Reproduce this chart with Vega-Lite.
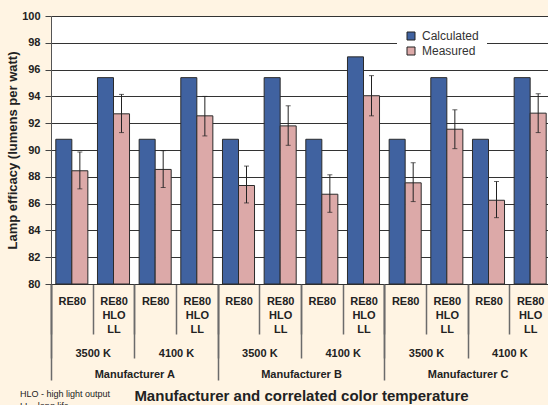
{
  "$schema": "https://vega.github.io/schema/vega-lite/v6.json",
  "width": 500,
  "height": 268,
  "autosize": {"type": "none"},
  "padding": {"left": 51, "top": 16, "right": 0, "bottom": 121},
  "background": "#fff4e3",
  "config": {"font": "Liberation Sans", "view": {"fill": "white", "stroke": null}},
  "title": {
    "text": ["HLO - high light output", "LL - long life"],
    "orient": "bottom",
    "anchor": "start",
    "frame": "group",
    "fontSize": 9,
    "fontWeight": "normal",
    "color": "#222",
    "lineHeight": 12,
    "offset": -14,
    "dx": -31
  },
  "datasets": {
    "bars": [
      {"g": "A|3500 K|RE80", "tg": "A|3500 K", "mfr": "Manufacturer A", "series": "Calculated", "value": 90.8},
      {"g": "A|3500 K|RE80", "tg": "A|3500 K", "mfr": "Manufacturer A", "series": "Measured", "value": 88.45},
      {"g": "A|3500 K|RE80 HLO LL", "tg": "A|3500 K", "mfr": "Manufacturer A", "series": "Calculated", "value": 95.4},
      {"g": "A|3500 K|RE80 HLO LL", "tg": "A|3500 K", "mfr": "Manufacturer A", "series": "Measured", "value": 92.7},
      {"g": "A|4100 K|RE80", "tg": "A|4100 K", "mfr": "Manufacturer A", "series": "Calculated", "value": 90.8},
      {"g": "A|4100 K|RE80", "tg": "A|4100 K", "mfr": "Manufacturer A", "series": "Measured", "value": 88.55},
      {"g": "A|4100 K|RE80 HLO LL", "tg": "A|4100 K", "mfr": "Manufacturer A", "series": "Calculated", "value": 95.4},
      {"g": "A|4100 K|RE80 HLO LL", "tg": "A|4100 K", "mfr": "Manufacturer A", "series": "Measured", "value": 92.55},
      {"g": "B|3500 K|RE80", "tg": "B|3500 K", "mfr": "Manufacturer B", "series": "Calculated", "value": 90.8},
      {"g": "B|3500 K|RE80", "tg": "B|3500 K", "mfr": "Manufacturer B", "series": "Measured", "value": 87.35},
      {"g": "B|3500 K|RE80 HLO LL", "tg": "B|3500 K", "mfr": "Manufacturer B", "series": "Calculated", "value": 95.4},
      {"g": "B|3500 K|RE80 HLO LL", "tg": "B|3500 K", "mfr": "Manufacturer B", "series": "Measured", "value": 91.8},
      {"g": "B|4100 K|RE80", "tg": "B|4100 K", "mfr": "Manufacturer B", "series": "Calculated", "value": 90.8},
      {"g": "B|4100 K|RE80", "tg": "B|4100 K", "mfr": "Manufacturer B", "series": "Measured", "value": 86.7},
      {"g": "B|4100 K|RE80 HLO LL", "tg": "B|4100 K", "mfr": "Manufacturer B", "series": "Calculated", "value": 96.95},
      {"g": "B|4100 K|RE80 HLO LL", "tg": "B|4100 K", "mfr": "Manufacturer B", "series": "Measured", "value": 94.05},
      {"g": "C|3500 K|RE80", "tg": "C|3500 K", "mfr": "Manufacturer C", "series": "Calculated", "value": 90.8},
      {"g": "C|3500 K|RE80", "tg": "C|3500 K", "mfr": "Manufacturer C", "series": "Measured", "value": 87.55},
      {"g": "C|3500 K|RE80 HLO LL", "tg": "C|3500 K", "mfr": "Manufacturer C", "series": "Calculated", "value": 95.4},
      {"g": "C|3500 K|RE80 HLO LL", "tg": "C|3500 K", "mfr": "Manufacturer C", "series": "Measured", "value": 91.55},
      {"g": "C|4100 K|RE80", "tg": "C|4100 K", "mfr": "Manufacturer C", "series": "Calculated", "value": 90.8},
      {"g": "C|4100 K|RE80", "tg": "C|4100 K", "mfr": "Manufacturer C", "series": "Measured", "value": 86.25},
      {"g": "C|4100 K|RE80 HLO LL", "tg": "C|4100 K", "mfr": "Manufacturer C", "series": "Calculated", "value": 95.4},
      {"g": "C|4100 K|RE80 HLO LL", "tg": "C|4100 K", "mfr": "Manufacturer C", "series": "Measured", "value": 92.75}
    ],
    "err": [
      {"g": "A|3500 K|RE80", "series": "Measured", "lo": 87.1, "hi": 89.85},
      {"g": "A|3500 K|RE80 HLO LL", "series": "Measured", "lo": 91.3, "hi": 94.15},
      {"g": "A|4100 K|RE80", "series": "Measured", "lo": 87.2, "hi": 89.95},
      {"g": "A|4100 K|RE80 HLO LL", "series": "Measured", "lo": 91.05, "hi": 94.0},
      {"g": "B|3500 K|RE80", "series": "Measured", "lo": 86.05, "hi": 88.8},
      {"g": "B|3500 K|RE80 HLO LL", "series": "Measured", "lo": 90.35, "hi": 93.3},
      {"g": "B|4100 K|RE80", "series": "Measured", "lo": 85.35, "hi": 88.15},
      {"g": "B|4100 K|RE80 HLO LL", "series": "Measured", "lo": 92.55, "hi": 95.55},
      {"g": "C|3500 K|RE80", "series": "Measured", "lo": 86.15, "hi": 89.05},
      {"g": "C|3500 K|RE80 HLO LL", "series": "Measured", "lo": 90.1, "hi": 93.0},
      {"g": "C|4100 K|RE80", "series": "Measured", "lo": 84.95, "hi": 87.65},
      {"g": "C|4100 K|RE80 HLO LL", "series": "Measured", "lo": 91.3, "hi": 94.2}
    ]
  },
  "layer": [
    {
      "layer": [
        {
          "data": {"name": "bars"},
          "mark": {"type": "bar", "stroke": "#2b2b2b", "strokeWidth": 1},
          "encoding": {
            "x": {
              "field": "g", "type": "nominal", "sort": null,
              "scale": {"paddingInner": 0, "paddingOuter": 0},
              "axis": {
                "orient": "bottom", "title": null, "tickBand": "extent", "tickSize": 50,
                "tickColor": "#6b6b6b", "tickWidth": 1.5, "domainColor": "#333",
                "labelExpr": "indexof(datum.label, 'HLO') >= 0 ? ['RE80', 'HLO', 'LL'] : (indexof(datum.label, 'RE80') >= 0 ? 'RE80' : '')",
                "labelFontWeight": "bold", "labelFontSize": 11, "labelColor": "#222",
                "labelPadding": -39, "labelLineHeight": 14, "labelAngle": 0, "labelBaseline": "top",
                "labelOverlap": false
              }
            },
            "xOffset": {"field": "series", "type": "nominal", "scale": {"paddingInner": 0, "paddingOuter": 0.3}},
            "y": {
              "field": "value", "type": "quantitative",
              "scale": {"domain": [80, 100], "zero": false, "nice": false},
              "axis": {
                "title": "Lamp efficacy (lumens per watt)",
                "values": [80, 81, 82, 83, 84, 85, 86, 87, 88, 89, 90, 91, 92, 93, 94, 95, 96, 97, 98, 99, 100],
                "tickCount": 20,
                "labelExpr": "datum.value % 2 == 0 ? datum.label : ''",
                "labelOverlap": false,
                "grid": true,
                "gridColor": {"condition": {"test": "datum.value % 2 == 0", "value": "#333333"}, "value": "#b8b8b8"},
                "gridWidth": {"condition": {"test": "datum.value % 2 == 0", "value": 1}, "value": 1.5},
                "tickColor": {"condition": {"test": "datum.value % 2 == 0", "value": "#444444"}, "value": "transparent"},
                "tickSize": 6, "domainColor": "#555",
                "labelFontWeight": "bold", "labelFontSize": 11, "labelColor": "#222", "labelPadding": 5,
                "titleFontSize": 13, "titleFontWeight": "bold", "titleColor": "#222", "titlePadding": 2
              }
            },
            "y2": {"datum": 80},
            "color": {
              "field": "series", "type": "nominal",
              "scale": {"domain": ["Calculated", "Measured"], "range": ["#4062a0", "#dca9a8"]},
              "legend": {
                "orient": "none", "legendX": 346, "legendY": 6, "title": null,
                "fillColor": "white", "padding": 8, "symbolType": "square", "symbolSize": 64,
                "symbolStrokeColor": "#222", "symbolStrokeWidth": 1, "labelFontSize": 12,
                "labelColor": "#333", "rowPadding": 3, "labelOffset": 5
              }
            }
          }
        },
        {
          "data": {"name": "err"},
          "mark": {"type": "rule", "color": "#222", "strokeWidth": 1},
          "encoding": {
            "x": {"field": "g", "type": "nominal", "sort": null},
            "xOffset": {"field": "series", "type": "nominal"},
            "y": {
              "field": "lo", "type": "quantitative",
              "axis": {
                "title": "Lamp efficacy (lumens per watt)",
                "values": [80, 81, 82, 83, 84, 85, 86, 87, 88, 89, 90, 91, 92, 93, 94, 95, 96, 97, 98, 99, 100],
                "tickCount": 20,
                "labelExpr": "datum.value % 2 == 0 ? datum.label : ''",
                "labelOverlap": false,
                "grid": true,
                "gridColor": {"condition": {"test": "datum.value % 2 == 0", "value": "#333333"}, "value": "#b8b8b8"},
                "gridWidth": {"condition": {"test": "datum.value % 2 == 0", "value": 1}, "value": 1.5},
                "tickColor": {"condition": {"test": "datum.value % 2 == 0", "value": "#444444"}, "value": "transparent"},
                "tickSize": 6, "domainColor": "#555",
                "labelFontWeight": "bold", "labelFontSize": 11, "labelColor": "#222", "labelPadding": 5,
                "titleFontSize": 13, "titleFontWeight": "bold", "titleColor": "#222", "titlePadding": 2
              }
            },
            "y2": {"field": "hi"}
          }
        },
        {
          "data": {"name": "err"},
          "mark": {"type": "tick", "color": "#222", "size": 5, "thickness": 1},
          "encoding": {
            "x": {"field": "g", "type": "nominal", "sort": null},
            "xOffset": {"field": "series", "type": "nominal"},
            "y": {
              "field": "lo", "type": "quantitative",
              "axis": {
                "title": "Lamp efficacy (lumens per watt)",
                "values": [80, 81, 82, 83, 84, 85, 86, 87, 88, 89, 90, 91, 92, 93, 94, 95, 96, 97, 98, 99, 100],
                "tickCount": 20,
                "labelExpr": "datum.value % 2 == 0 ? datum.label : ''",
                "labelOverlap": false,
                "grid": true,
                "gridColor": {"condition": {"test": "datum.value % 2 == 0", "value": "#333333"}, "value": "#b8b8b8"},
                "gridWidth": {"condition": {"test": "datum.value % 2 == 0", "value": 1}, "value": 1.5},
                "tickColor": {"condition": {"test": "datum.value % 2 == 0", "value": "#444444"}, "value": "transparent"},
                "tickSize": 6, "domainColor": "#555",
                "labelFontWeight": "bold", "labelFontSize": 11, "labelColor": "#222", "labelPadding": 5,
                "titleFontSize": 13, "titleFontWeight": "bold", "titleColor": "#222", "titlePadding": 2
              }
            }
          }
        },
        {
          "data": {"name": "err"},
          "mark": {"type": "tick", "color": "#222", "size": 5, "thickness": 1},
          "encoding": {
            "x": {"field": "g", "type": "nominal", "sort": null},
            "xOffset": {"field": "series", "type": "nominal"},
            "y": {
              "field": "hi", "type": "quantitative",
              "axis": {
                "title": "Lamp efficacy (lumens per watt)",
                "values": [80, 81, 82, 83, 84, 85, 86, 87, 88, 89, 90, 91, 92, 93, 94, 95, 96, 97, 98, 99, 100],
                "tickCount": 20,
                "labelExpr": "datum.value % 2 == 0 ? datum.label : ''",
                "labelOverlap": false,
                "grid": true,
                "gridColor": {"condition": {"test": "datum.value % 2 == 0", "value": "#333333"}, "value": "#b8b8b8"},
                "gridWidth": {"condition": {"test": "datum.value % 2 == 0", "value": 1}, "value": 1.5},
                "tickColor": {"condition": {"test": "datum.value % 2 == 0", "value": "#444444"}, "value": "transparent"},
                "tickSize": 6, "domainColor": "#555",
                "labelFontWeight": "bold", "labelFontSize": 11, "labelColor": "#222", "labelPadding": 5,
                "titleFontSize": 13, "titleFontWeight": "bold", "titleColor": "#222", "titlePadding": 2
              }
            }
          }
        }
      ]
    },
    {
      "data": {"name": "bars"},
      "mark": {"type": "rule", "opacity": 0},
      "encoding": {
        "x": {
          "field": "tg", "type": "nominal", "sort": null,
          "scale": {"type": "band", "paddingInner": 0, "paddingOuter": 0},
          "axis": {
            "orient": "bottom", "title": null, "domain": false, "tickBand": "extent", "tickSize": 74,
            "tickColor": "#6b6b6b", "tickWidth": 1.5,
            "labelExpr": "split(datum.label, '|')[1]",
            "labelFontWeight": "bold", "labelFontSize": 11, "labelColor": "#222",
            "labelPadding": -11, "labelAngle": 0, "labelBaseline": "top", "labelOverlap": false
          }
        }
      }
    },
    {
      "data": {"name": "bars"},
      "mark": {"type": "rule", "opacity": 0},
      "encoding": {
        "x": {
          "field": "mfr", "type": "nominal", "sort": null,
          "scale": {"type": "band", "paddingInner": 0, "paddingOuter": 0},
          "axis": {
            "orient": "bottom", "title": "Manufacturer and correlated color temperature",
            "domain": false, "tickBand": "extent", "tickSize": 96,
            "tickColor": "#6b6b6b", "tickWidth": 1.5,
            "labelFontWeight": "bold", "labelFontSize": 11, "labelColor": "#222",
            "labelPadding": -12, "labelAngle": 0, "labelBaseline": "top", "labelOverlap": false,
            "titleFontSize": 15, "titleFontWeight": "bold", "titleColor": "#222", "titlePadding": 8
          }
        }
      }
    }
  ],
  "resolve": {"scale": {"x": "independent"}, "axis": {"x": "independent"}}
}
